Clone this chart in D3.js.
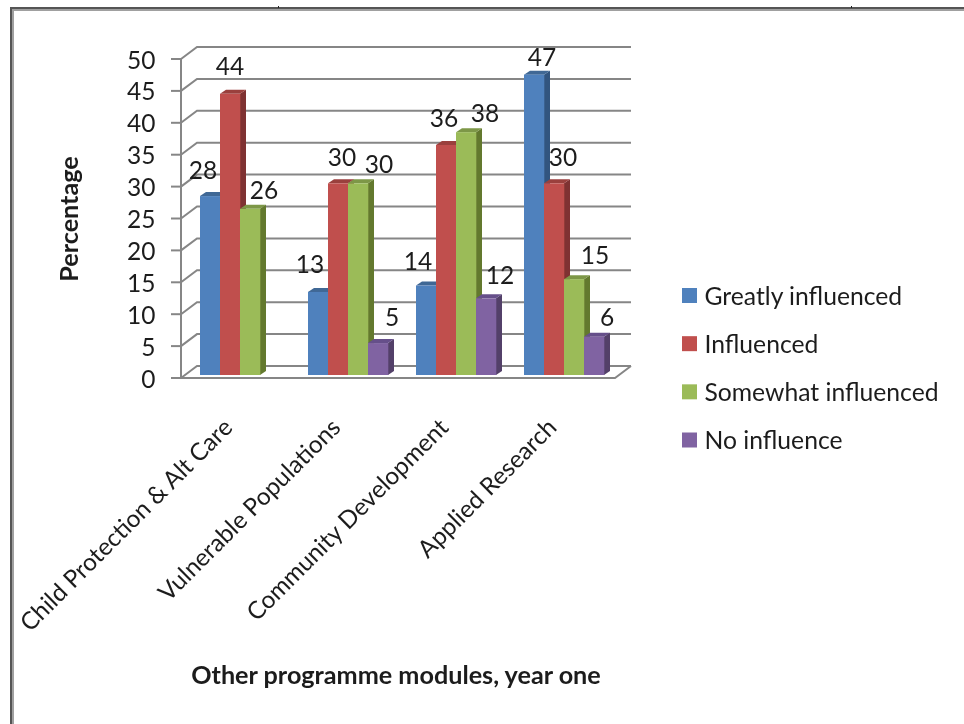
<!DOCTYPE html>
<html><head><meta charset="utf-8">
<script src="https://cdn.jsdelivr.net/npm/d3@7"></script>
<style>
html,body{margin:0;padding:0;background:#fff}
svg{display:block}
text{font-family:Lato,"Open Sans",sans-serif;fill:#1c1c1c}
</style></head><body>
<svg id="c" width="964" height="724"></svg>
<script>
const categories = ["Child Protection & Alt Care","Vulnerable Populations","Community Development","Applied Research"];
const seriesNames = ["Greatly influenced","Influenced","Somewhat influenced","No influence"];
const greatlyInfluenced = [28,13,14,47];
const influenced = [44,30,36,30];
const somewhatInfluenced = [26,30,38,15];
const noInfluence = [null,5,12,6];
const yTicks = [0,5,10,15,20,25,30,35,40,45,50];
const colors = ["#4f81bd","#c0504d","#9bbb59","#8064a2"];
const sideColors = ["#31557f","#7f3230","#64792f","#524069"];
const topColors = ["#3f6795","#9a3f3d","#7d9747","#66508a"];
const seriesValues = [greatlyInfluenced,influenced,somewhatInfluenced,noInfluence];

// label placement relative to the top centre of each bar [series][category]
const labelNudges = [
 [[-7,-27],[-8,-28],[-8,-25],[8,-18]],
 [[0,-28],[4,-27],[-2,-27],[9,-27]],
 [[14,-19],[21,-20],[19,-20],[21,-25]],
 [[0,0],[14,-27],[14,-24],[13,-20]]
];

const svg = d3.select("#c");
const defs = svg.append("defs");
defs.append("filter").attr("id","soft").attr("x","-5%").attr("y","-5%").attr("width","110%").attr("height","110%")
  .append("feGaussianBlur").attr("stdDeviation",0.5);

// screenshot frame
const frame = svg.append("g");
frame.append("rect").attr("x",10).attr("y",7).attr("width",954).attr("height",2).attr("fill","#555");
frame.append("rect").attr("x",10).attr("y",9).attr("width",954).attr("height",2).attr("fill","#a0a0a0");
frame.append("rect").attr("x",10).attr("y",7).attr("width",2).attr("height",717).attr("fill","#555");
frame.append("rect").attr("x",12).attr("y",9).attr("width",2).attr("height",715).attr("fill","#a0a0a0");
[278,851].forEach(x=>frame.append("rect").attr("x",x).attr("y",6).attr("width",1).attr("height",2).attr("fill","#222"));

const wallDx = 16, wallDy = -12, depthX = 6, depthY = -4;
const axisY = d3.scaleLinear().domain([0,50]).range([378,59]);
const barY = d3.scaleLinear().domain([0,50]).range([375,55.5]);
const x0 = d3.scaleBand().domain(categories).range([186,618]).paddingInner(28/108).paddingOuter(14/108);
const x1 = d3.scaleBand().domain(seriesNames).range([0,x0.bandwidth()]);
const chart = svg.append("g").attr("filter","url(#soft)");

// walls
const grid = chart.append("g").attr("fill","none").attr("stroke","#868686").attr("stroke-width",2);
const left = 181, right = 615;
yTicks.forEach(t=>{
  const y = axisY(t);
  grid.append("path").attr("d",d3.line()([[left,y],[left+wallDx,y+wallDy],[right+wallDx,y+wallDy]]));
  grid.append("line").attr("x1",left-10).attr("x2",left).attr("y1",y).attr("y2",y);
});
grid.append("line").attr("x1",left).attr("x2",left).attr("y1",axisY(50)).attr("y2",axisY(0));
grid.append("path").attr("d",d3.line()([[left-10,axisY(0)],[right,axisY(0)],[right+wallDx,axisY(0)+wallDy]]));

// bars
seriesNames.forEach((s,si)=>{
  categories.forEach((c,ci)=>{
    const v = seriesValues[si][ci];
    if(v==null) return;
    const xa = x0(c)+x1(s), xb = xa+x1.bandwidth(), yt = barY(v), yb = barY(0);
    const g = chart.append("g");
    g.append("polygon").attr("points",[[xb,yt],[xb+depthX,yt+depthY],[xb+depthX,yb+depthY],[xb,yb]].join(" ")).attr("fill",sideColors[si]);
    g.append("polygon").attr("points",[[xa,yt],[xa+depthX,yt+depthY],[xb+depthX,yt+depthY],[xb,yt]].join(" ")).attr("fill",topColors[si]);
    g.append("rect").attr("x",xa).attr("y",yt).attr("width",xb-xa+0.3).attr("height",yb-yt).attr("fill",colors[si]);
  });
});
// value labels above the bars
seriesNames.forEach((s,si)=>{
  categories.forEach((c,ci)=>{
    const v = seriesValues[si][ci];
    if(v==null) return;
    const n = labelNudges[si][ci];
    chart.append("text").attr("x",x0(c)+x1(s)+x1.bandwidth()/2+n[0]).attr("y",barY(v)+n[1])
      .attr("text-anchor","middle").attr("dominant-baseline","central").attr("font-size",24.5).text(v);
  });
});
// y tick labels
yTicks.forEach(t=>{
  chart.append("text").attr("x",155.5).attr("y",axisY(t)).attr("text-anchor","end")
    .attr("dominant-baseline","central").attr("font-size",24.5).text(t);
});
// category labels
categories.forEach(c=>{
  const cx = x0(c)+x0.bandwidth()/2-6;
  chart.append("text").attr("transform",`translate(${cx},${axisY(0)+51}) rotate(-45)`)
    .attr("text-anchor","end").attr("font-size",24.3).text(c);
});
// titles
chart.append("text").attr("transform","translate(68,219) rotate(-90)").attr("text-anchor","middle")
  .attr("dominant-baseline","central").attr("font-size",25.2).attr("font-weight",700).attr("fill","#000").text("Percentage");
chart.append("text").attr("x",396).attr("y",674).attr("text-anchor","middle")
  .attr("dominant-baseline","central").attr("font-size",25.2).attr("font-weight",700).attr("fill","#000").text("Other programme modules, year one");
// legend
const legY = d3.scalePoint().domain(seriesNames).range([295.5,440]);
seriesNames.forEach((s,i)=>{
  chart.append("rect").attr("x",682).attr("y",legY(s)-7.5).attr("width",15).attr("height",15).attr("fill",colors[i]);
  chart.append("text").attr("x",704.5).attr("y",legY(s)-0.5).attr("dominant-baseline","central").attr("font-size",24.7).text(s);
});
</script></body></html>
